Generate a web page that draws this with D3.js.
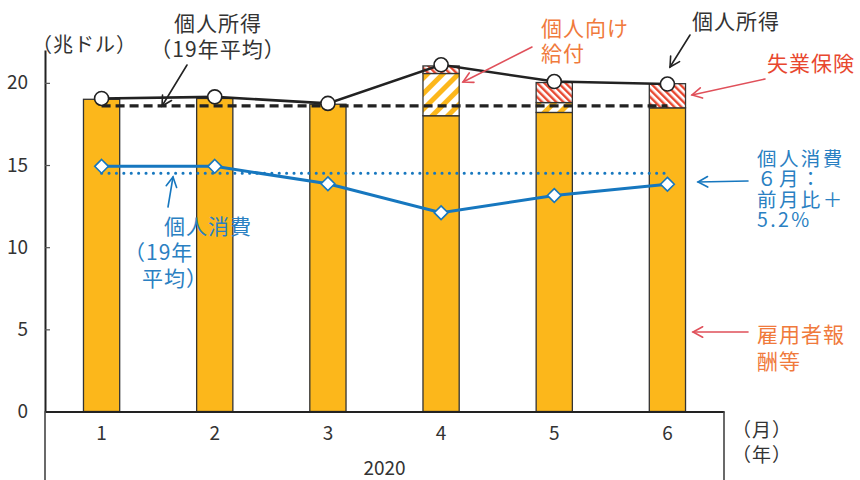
<!DOCTYPE html>
<html>
<head>
<meta charset="utf-8">
<script src="https://cdn.jsdelivr.net/npm/d3@7"></script>
<style>
  html, body { margin: 0; padding: 0; background: #fff; }
  svg { display: block; }
  text { font-family: "Noto Sans CJK JP", "Noto Sans", sans-serif; }
</style>
</head>
<body>
<svg id="chart" width="860" height="480"></svg>
<script>
// 月（2020年）
const months = ["1", "2", "3", "4", "5", "6"];
// 雇用者報酬等（兆ドル）
const compensation = [19.0, 19.05, 18.7, 18.0, 18.2, 18.48];
// 個人向け給付
const transfers = [0, 0, 0, 2.57, 0.6, 0];
// 失業保険
const unemployment = [0, 0, 0, 0.46, 1.22, 1.47];
// 個人所得
const income = [19.05, 19.15, 18.75, 21.1, 20.08, 19.93];
// 個人消費
const consumption = [14.92, 14.92, 13.86, 12.1, 13.15, 13.83];
// 19年平均
const incomeAvg2019 = 18.6;
const consumptionAvg2019 = 14.5;
const yTicks = [0, 5, 10, 15, 20];

const C = {
  yellow: "#FCB71B",
  red: "#E8472F",
  orange: "#F07A3C",
  arrowRed: "#E0505A",
  blue: "#1677BF",
  blueText: "#2A80C2",
  ink: "#222",
  text: "#333"
};

const svg = d3.select("#chart");
svg.append("rect").attr("width", 860).attr("height", 480).attr("fill", "#fff");

const x = d3.scaleBand().domain(months).range([45, 724]).padding(0);
const y = d3.scaleLinear().domain([0, 22]).range([411.5, 50]);
const barW = x.bandwidth() * 0.32;
const cx = m => x(m) + x.bandwidth() / 2;

// hatch patterns
const defs = svg.append("defs");
const yp = defs.append("pattern").attr("id", "hatchYellow")
  .attr("patternUnits", "userSpaceOnUse").attr("width", 11).attr("height", 11)
  .attr("patternTransform", "rotate(45)");
yp.append("rect").attr("width", 11).attr("height", 11).attr("fill", "#fff");
yp.append("rect").attr("width", 5).attr("height", 11).attr("fill", C.yellow);

const rp = defs.append("pattern").attr("id", "hatchRed")
  .attr("patternUnits", "userSpaceOnUse").attr("width", 5).attr("height", 5)
  .attr("patternTransform", "rotate(-45)");
rp.append("rect").attr("width", 5).attr("height", 5).attr("fill", "#fff");
rp.append("rect").attr("width", 2.4).attr("height", 5).attr("fill", C.red);

// stacked bars
const rows = months.map((m, i) => ({
  m, compensation: compensation[i], transfers: transfers[i], unemployment: unemployment[i]
}));
const stack = d3.stack().keys(["compensation", "transfers", "unemployment"])(rows);
const fills = { compensation: C.yellow, transfers: "url(#hatchYellow)", unemployment: "url(#hatchRed)" };

const barsG = svg.append("g");
stack.forEach(layer => {
  barsG.selectAll(null)
    .data(layer.filter(d => d[1] - d[0] > 0))
    .enter().append("rect")
    .attr("x", d => cx(d.data.m) - barW / 2)
    .attr("width", barW)
    .attr("y", d => y(d[1]))
    .attr("height", d => y(d[0]) - y(d[1]))
    .attr("fill", fills[layer.key])
    .attr("stroke", "#333")
    .attr("stroke-width", 1.3);
});

// axes
const yAxis = svg.append("g").attr("transform", "translate(45,0)")
  .call(d3.axisLeft(y).tickValues(yTicks).tickSize(-5).tickSizeOuter(0).tickPadding(17));
yAxis.select(".domain").attr("stroke", C.ink).attr("stroke-width", 2);
yAxis.selectAll(".tick line").attr("stroke", "#555").attr("stroke-width", 1.2);
yAxis.selectAll(".tick text").attr("font-size", 19).attr("fill", C.text)
  .attr("font-family", '"Noto Sans CJK JP", sans-serif');

const xAxis = svg.append("g").attr("transform", `translate(0,${y(0)})`)
  .call(d3.axisBottom(x).tickSize(0).tickSizeOuter(0).tickPadding(15));
xAxis.select(".domain").attr("stroke", C.ink).attr("stroke-width", 2);
xAxis.selectAll(".tick text").attr("font-size", 19).attr("fill", C.text)
  .attr("font-family", '"Noto Sans CJK JP", sans-serif');

// year box below the category axis
[45, 724].forEach(px => {
  svg.append("line").attr("x1", px).attr("x2", px).attr("y1", y(0)).attr("y2", 480)
    .attr("stroke", "#444").attr("stroke-width", 1.6);
});
svg.append("text").attr("x", (45 + 724) / 2).attr("y", 466).attr("text-anchor", "middle")
  .attr("dominant-baseline", "central").attr("font-size", 19).attr("fill", C.text).text("2020");

// 2019 average reference lines
const first = cx(months[0]), last = cx(months[months.length - 1]);
svg.append("line").attr("x1", first).attr("x2", last)
  .attr("y1", y(incomeAvg2019)).attr("y2", y(incomeAvg2019))
  .attr("stroke", C.ink).attr("stroke-width", 3.2).attr("stroke-dasharray", "9,5");
svg.append("line").attr("x1", first).attr("x2", last)
  .attr("y1", y(consumptionAvg2019)).attr("y2", y(consumptionAvg2019))
  .attr("stroke", C.blue).attr("stroke-width", 3).attr("stroke-linecap", "round")
  .attr("stroke-dasharray", "0.1,7.3");

// consumption line with diamonds
const line = d3.line().x((d, i) => cx(months[i])).y(d => y(d));
svg.append("path").datum(consumption).attr("d", line)
  .attr("fill", "none").attr("stroke", C.blue).attr("stroke-width", 3);
svg.selectAll(null).data(consumption).enter().append("path")
  .attr("d", d3.symbol(d3.symbolDiamond2, 120)())
  .attr("transform", (d, i) => `translate(${cx(months[i])},${y(d)})`)
  .attr("fill", "#fff").attr("stroke", C.blue).attr("stroke-width", 1.6);

// income line with circles
svg.append("path").datum(income).attr("d", line)
  .attr("fill", "none").attr("stroke", C.ink).attr("stroke-width", 2.6);
svg.selectAll(null).data(income).enter().append("circle")
  .attr("cx", (d, i) => cx(months[i])).attr("cy", d => y(d)).attr("r", 7)
  .attr("fill", "#fff").attr("stroke", C.ink).attr("stroke-width", 1.6);

// annotations
function arrow(x1, y1, x2, y2, color, w) {
  const g = svg.append("g").attr("stroke", color).attr("stroke-width", w || 1.6)
    .attr("fill", "none").attr("stroke-linecap", "round");
  g.append("line").attr("x1", x1).attr("y1", y1).attr("x2", x2).attr("y2", y2);
  const a = Math.atan2(y2 - y1, x2 - x1), L = 11, s = 0.5;
  const p1 = [x2 - L * Math.cos(a - s), y2 - L * Math.sin(a - s)];
  const p2 = [x2 - L * Math.cos(a + s), y2 - L * Math.sin(a + s)];
  g.append("path").attr("d", `M${p1[0]},${p1[1]}L${x2},${y2}L${p2[0]},${p2[1]}`);
}
function label(lines, px, py, color, anchor, lh, size, spacing) {
  const t = svg.append("text").attr("font-size", size || 21).attr("fill", color)
    .attr("letter-spacing", spacing == null ? 1 : spacing).attr("text-anchor", anchor || "start");
  lines.forEach((s, i) => {
    const l = typeof s === "string" ? { t: s, dx: 0 } : s;
    t.append("tspan").attr("x", px + l.dx).attr("y", py + i * lh)
      .attr("dominant-baseline", "central").text(l.t);
  });
}

svg.append("text").attr("x", 32).attr("y", 43).attr("font-size", 20).attr("fill", C.text)
  .attr("dominant-baseline", "central").attr("letter-spacing", 1).text("（兆ドル）");

label(["個人所得", "（19年平均）"], 218, 22, C.text, "middle", 26);
arrow(187, 65, 162, 106, C.ink, 1.6);

label(["個人向け", "給付"], 541, 27, C.orange, "start", 25);
arrow(532, 47, 463, 82, C.arrowRed, 1.6);

label(["個人所得"], 736, 20, C.text, "middle", 25);
arrow(690, 35, 670, 67, C.ink, 1.6);

label(["失業保険"], 811, 62, C.red, "middle", 25);
arrow(765, 79, 692, 95, C.arrowRed, 1.6);

label(["個人消費", "６月：", "前月比＋", "5.2%"], 757, 157, C.blueText, "start", 20.6, 19.5, 2.4);
arrow(748, 181, 698, 182, C.blue, 1.6);

label(["雇用者報", "酬等"], 757, 333, C.orange, "start", 27);
arrow(748, 332, 693, 332, C.arrowRed, 1.6);

label(["個人消費", { t: "（19年", dx: -40 }, { t: "平均）", dx: -22 }], 164, 225, C.blueText, "start", 26);
arrow(168, 207, 173, 177, C.blue, 1.6);

// month / year unit labels
label(["（月）", "（年）"], 732, 428, C.text, "start", 25, 19);
</script>
</body>
</html>
